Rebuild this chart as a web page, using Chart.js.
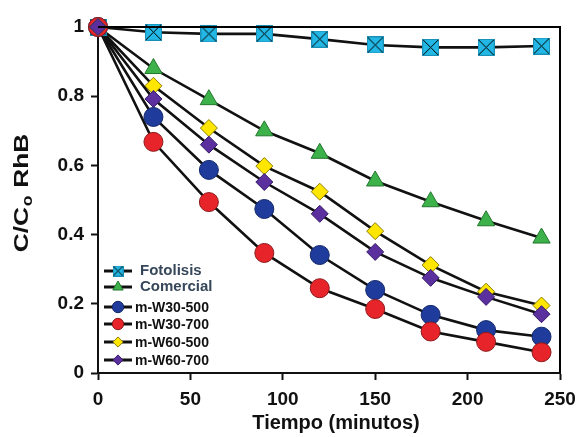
<!DOCTYPE html>
<html>
<head>
<meta charset="utf-8">
<script src="https://cdn.jsdelivr.net/npm/chart.js@4.4.1/dist/chart.umd.min.js"></script>
<style>
  html, body { margin: 0; padding: 0; background: #fff; }
  #wrap { width: 586px; height: 437px; }
</style>
</head>
<body>
<div id="wrap"><canvas id="grafico"></canvas></div>
<script>
// datos
var tiempo = [0, 30, 60, 90, 120, 150, 180, 210, 240];
var fotolisis = [1, 0.985, 0.98, 0.98, 0.965, 0.948, 0.941, 0.941, 0.945];
var comercial = [1, 0.88, 0.79, 0.70, 0.635, 0.555, 0.495, 0.44, 0.39];
var w30_500 = [1, 0.74, 0.587, 0.474, 0.341, 0.24, 0.168, 0.124, 0.105];
var w30_700 = [1, 0.668, 0.494, 0.347, 0.245, 0.185, 0.12, 0.09, 0.06];
var w60_500 = [1, 0.83, 0.708, 0.598, 0.524, 0.41, 0.312, 0.235, 0.195];
var w60_700 = [1, 0.792, 0.66, 0.552, 0.46, 0.35, 0.275, 0.22, 0.17];
var nombres = ['Fotolisis', 'Comercial', 'm-W30-500', 'm-W30-700', 'm-W60-500', 'm-W60-700'];
var series = [fotolisis, comercial, w30_500, w30_700, w60_500, w60_700];

function cuadroX(size) {
  var c = document.createElement('canvas');
  c.width = size; c.height = size;
  var g = c.getContext('2d');
  g.fillStyle = '#22b7e4';
  g.fillRect(0, 0, size, size);
  g.strokeStyle = '#1a8fb5';
  g.lineWidth = 1;
  g.strokeRect(0.5, 0.5, size - 1, size - 1);
  g.strokeStyle = '#000';
  g.beginPath();
  g.moveTo(1, 1); g.lineTo(size - 1, size - 1);
  g.moveTo(size - 1, 1); g.lineTo(1, size - 1);
  g.stroke();
  return c;
}

var estilos = [
  { style: cuadroX(17), small: cuadroX(11), r: 8, bg: '#22b7e4', bd: '#1a8fb5' },
  { style: 'triangle', r: 10, bg: '#3db24a', bd: '#23772d' },
  { style: 'circle', r: 9.5, bg: '#1f3c9c', bd: '#13286a' },
  { style: 'circle', r: 9.5, bg: '#e8242b', bd: '#8c1a1c' },
  { style: 'rectRot', r: 8.5, bg: '#ffe600', bd: '#8c7c00' },
  { style: 'rectRot', r: 8.5, bg: '#5b2f9e', bd: '#361b68' }
];

function puntos(arr) {
  return tiempo.map(function (t, i) { return { x: t, y: arr[i] }; });
}

var datasets = [];
series.forEach(function (s, i) {
  // linea
  datasets.push({
    label: nombres[i] + ' linea',
    data: puntos(s),
    borderColor: '#111',
    borderWidth: 2.6,
    pointRadius: 0,
    tension: 0,
    fill: false,
    clip: false,
    order: 20 + (6 - i)
  });
});
series.forEach(function (s, i) {
  var e = estilos[i];
  datasets.push({
    label: nombres[i],
    data: puntos(s),
    showLine: false,
    pointStyle: e.style,
    pointRadius: e.r,
    pointHoverRadius: e.r,
    pointBackgroundColor: e.bg,
    pointBorderColor: e.bd,
    pointBorderWidth: 1,
    clip: false,
    order: 6 - i
  });
});

var extras = {
  id: 'extras',
  afterDraw: function (chart) {
    var ctx = chart.ctx;
    var a = chart.chartArea;
    ctx.save();
    // marco
    ctx.strokeStyle = '#000';
    ctx.lineWidth = 2;
    ctx.beginPath();
    ctx.moveTo(a.left, a.top);
    ctx.lineTo(a.right, a.top);
    ctx.lineTo(a.right, a.bottom);
    ctx.stroke();

    // titulo eje x
    ctx.fillStyle = '#111';
    ctx.font = 'bold 20px "Liberation Sans", Arial, sans-serif';
    ctx.textAlign = 'center';
    ctx.textBaseline = 'middle';
    ctx.fillText('Tiempo (minutos)', 336, 423);

    // titulo eje y con subindice
    ctx.save();
    ctx.translate(21, 193);
    ctx.rotate(-Math.PI / 2);
    ctx.scale(1.25, 1);
    var fBig = 'bold 21px "Liberation Sans", Arial, sans-serif';
    var fSub = 'bold 14px "Liberation Sans", Arial, sans-serif';
    ctx.font = fBig;
    var w1 = ctx.measureText('C/C').width;
    var w3 = ctx.measureText(' RhB').width;
    ctx.font = fSub;
    var w2 = ctx.measureText('o').width + 1;
    var x0 = -(w1 + w2 + w3) / 2;
    ctx.textAlign = 'left';
    ctx.textBaseline = 'alphabetic';
    ctx.font = fBig;
    ctx.fillText('C/C', x0, 7);
    ctx.font = fSub;
    ctx.fillText('o', x0 + w1 + 0.5, 11);
    ctx.font = fBig;
    ctx.fillText(' RhB', x0 + w1 + w2, 7);
    ctx.restore();

    // leyenda
    var filas = [271, 287, 307, 324, 342, 360];
    filas.forEach(function (yy, i) {
      var e = estilos[i];
      ctx.strokeStyle = '#111';
      ctx.lineWidth = 3;
      ctx.beginPath();
      ctx.moveTo(104, yy);
      ctx.lineTo(132, yy);
      ctx.stroke();
      ctx.fillStyle = e.bg;
      ctx.strokeStyle = e.bd;
      ctx.lineWidth = 1;
      Chart.helpers.drawPoint(ctx, {
        pointStyle: e.small || e.style,
        radius: e.r * 0.6,
        rotation: 0,
        borderWidth: 1
      }, 118, yy);
      ctx.textAlign = 'left';
      ctx.textBaseline = 'middle';
      if (i < 2) {
        ctx.fillStyle = '#36475a';
        ctx.font = 'bold 15px "Liberation Sans", Arial, sans-serif';
        ctx.fillText(nombres[i], 140, yy);
      } else {
        ctx.fillStyle = '#111';
        ctx.font = 'bold 14px "Liberation Sans", Arial, sans-serif';
        ctx.fillText(nombres[i], 135, yy + 1);
      }
    });
    ctx.restore();
  }
};

var fuenteTicks = { family: '"Liberation Sans", Arial, sans-serif', size: 19, weight: 'bold' };

new Chart(document.getElementById('grafico'), {
  type: 'line',
  data: { datasets: datasets },
  options: {
    responsive: true,
    maintainAspectRatio: false,
    animation: false,
    events: [],
    layout: { padding: { top: 27, right: 26, left: 0, bottom: 0 } },
    plugins: {
      legend: { display: false },
      tooltip: { enabled: false }
    },
    scales: {
      x: {
        type: 'linear',
        min: 0,
        max: 250,
        afterFit: function (s) { s.height = 64; },
        ticks: { stepSize: 50, color: '#111', font: fuenteTicks, padding: 8, maxRotation: 0 },
        grid: { drawOnChartArea: false, drawTicks: true, tickLength: 7, tickWidth: 2, tickColor: '#111' },
        border: { color: '#111', width: 2 }
      },
      y: {
        min: 0,
        max: 1,
        afterFit: function (s) { s.width = 98; },
        ticks: {
          stepSize: 0.2, color: '#111', font: fuenteTicks, padding: 7,
          callback: function (v) { return String(Number(v.toFixed(1))); }
        },
        grid: { drawOnChartArea: false, drawTicks: true, tickLength: 7, tickWidth: 2, tickColor: '#111' },
        border: { color: '#111', width: 2 }
      }
    }
  },
  plugins: [extras]
});
</script>
</body>
</html>
